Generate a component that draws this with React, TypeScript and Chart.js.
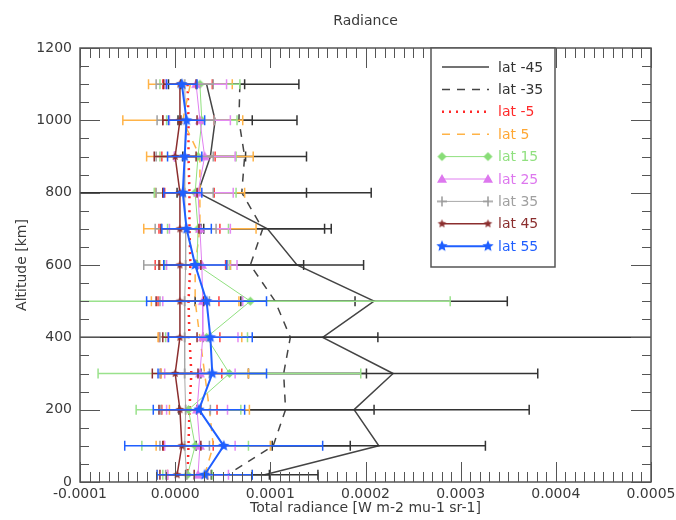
import React, { useEffect, useRef } from 'react';
import { Chart, registerables } from 'chart.js';

Chart.register(...registerables);

// ---------- data ----------
const ALTITUDES = [1100, 1000, 900, 800, 700, 600, 500, 400, 300, 200, 100, 20];
const SERIES_NAMES = ['lat -45', 'lat -35', 'lat -5', 'lat 5', 'lat 15', 'lat 25', 'lat 35', 'lat 45', 'lat 55'];

const LAT_M45 = [3.3e-5, 4.2e-5, 3.7e-5, 2.4e-5, 9.7e-5, 12.8e-5, 20.9e-5, 15.5e-5, 22.9e-5, 18.8e-5, 21.4e-5, 9.4e-5];
const ERR_M45 = [4.0e-5, 3.9e-5, 3.7e-5, 18.2e-5, 6.7e-5, 7.0e-5, 14.0e-5, 38.0e-5, 15.2e-5, 18.4e-5, 11.2e-5, 5.6e-5];

const LAT_M35 = [6.8e-5, 6.7e-5, 7.3e-5, 7.0e-5, 9.2e-5, 7.9e-5, 10.5e-5, 12.1e-5, 11.4e-5, 11.6e-5, 10.3e-5, 5.5e-5];
const ERR_M35 = [6.2e-5, 6.1e-5, 6.5e-5, 6.8e-5, 6.5e-5, 5.6e-5, 8.4e-5, 9.2e-5, 8.7e-5, 9.3e-5, 8.1e-5, 4.4e-5];

const LAT_M5 = [1.3e-5, 1.4e-5, 1.4e-5, 1.5e-5, 1.5e-5, 1.6e-5, 1.4e-5, 1.5e-5, 1.7e-5, 1.5e-5, 1.4e-5, 1.3e-5];
const ERR_M5 = [2.6e-5, 2.7e-5, 2.8e-5, 2.6e-5, 3.2e-5, 3.7e-5, 3.2e-5, 3.2e-5, 3.2e-5, 2.9e-5, 2.6e-5, 2.1e-5];

const LAT_5 = [1.6e-5, 0.8e-5, 2.6e-5, 2.6e-5, 2.6e-5, 2.1e-5, 2.1e-5, 2.6e-5, 3.1e-5, 3.6e-5, 4.0e-5, 3.1e-5];
const ERR_5 = [4.4e-5, 6.3e-5, 5.6e-5, 4.7e-5, 5.9e-5, 3.7e-5, 4.6e-5, 4.4e-5, 4.6e-5, 4.2e-5, 6.0e-5, 5.0e-5];

const LAT_15 = [2.6e-5, 2.8e-5, 2.4e-5, 2.1e-5, 2.4e-5, 2.3e-5, 7.9e-5, 3.3e-5, 5.7e-5, 1.4e-5, 2.1e-5, 1.3e-5];
const ERR_15 = [4.2e-5, 3.7e-5, 4.0e-5, 4.3e-5, 3.2e-5, 3.4e-5, 21.0e-5, 4.3e-5, 13.8e-5, 5.5e-5, 5.6e-5, 2.6e-5];

const LAT_25 = [2.2e-5, 2.6e-5, 3.1e-5, 2.4e-5, 2.6e-5, 2.8e-5, 2.9e-5, 2.9e-5, 2.6e-5, 2.3e-5, 2.6e-5, 2.4e-5];
const ERR_25 = [3.2e-5, 3.2e-5, 3.2e-5, 3.7e-5, 3.2e-5, 3.7e-5, 4.2e-5, 3.7e-5, 3.7e-5, 3.2e-5, 3.7e-5, 3.2e-5];

const LAT_35 = [1.0e-5, 1.1e-5, 1.0e-5, 1.0e-5, 1.1e-5, 1.1e-5, 1.0e-5, 1.0e-5, 1.0e-5, 1.1e-5, 1.0e-5, 1.2e-5];
const ERR_35 = [3.0e-5, 3.0e-5, 3.0e-5, 3.0e-5, 3.2e-5, 4.4e-5, 2.6e-5, 2.6e-5, 2.6e-5, 2.6e-5, 2.6e-5, 2.2e-5];

const LAT_45 = [0.5e-5, 0.5e-5, 0.0, 0.5e-5, 0.5e-5, 0.5e-5, 0.5e-5, 0.5e-5, 0.0, 0.5e-5, 0.7e-5, 0.2e-5];
const ERR_45 = [1.7e-5, 1.8e-5, 2.2e-5, 1.8e-5, 2.0e-5, 2.2e-5, 2.5e-5, 1.8e-5, 2.4e-5, 2.2e-5, 2.0e-5, 1.8e-5];

const LAT_55 = [0.7e-5, 1.2e-5, 1.0e-5, 0.8e-5, 1.2e-5, 2.1e-5, 3.3e-5, 3.7e-5, 3.9e-5, 2.5e-5, 5.1e-5, 3.1e-5];
const ERR_55 = [1.6e-5, 1.9e-5, 1.8e-5, 2.0e-5, 2.6e-5, 3.3e-5, 6.3e-5, 4.4e-5, 5.7e-5, 4.8e-5, 10.4e-5, 5.0e-5];

const X_MIN = -0.0001;
const X_MAX = 0.0005;
const X_STEP = 0.0001;
const Y_MIN = 0;
const Y_MAX = 1200;
const Y_STEP = 200;

const TITLE = 'Radiance';
const X_TITLE = 'Total radiance [W m-2 mu-1 sr-1]';
const Y_TITLE = 'Altitude [km]';

const FONT = "'DejaVu Sans', sans-serif";
const TEXT_COLOR = '#3a3a3a';
const AXIS_COLOR = '#555555';

// ---------- markers ----------
function makeMarker(kind: string, color: string, r: number): HTMLCanvasElement {
  const s = Math.ceil(r * 2 + 4);
  const c = document.createElement('canvas');
  c.width = s;
  c.height = s;
  const g = c.getContext('2d') as CanvasRenderingContext2D;
  const m = s / 2;
  g.fillStyle = color;
  g.strokeStyle = color;
  g.lineWidth = 1.5;
  g.beginPath();
  if (kind === 'diamond') {
    g.moveTo(m, m - r);
    g.lineTo(m + r, m);
    g.lineTo(m, m + r);
    g.lineTo(m - r, m);
    g.closePath();
    g.fill();
  } else if (kind === 'triangle') {
    g.moveTo(m, m - r);
    g.lineTo(m + r, m + r * 0.75);
    g.lineTo(m - r, m + r * 0.75);
    g.closePath();
    g.fill();
  } else if (kind === 'plus') {
    g.moveTo(m - r, m);
    g.lineTo(m + r, m);
    g.moveTo(m, m - r);
    g.lineTo(m, m + r);
    g.stroke();
  } else if (kind === 'star') {
    for (let i = 0; i < 10; i++) {
      const rr = i % 2 === 0 ? r : r * 0.45;
      const a = -Math.PI / 2 + (i * Math.PI) / 5;
      const px = m + rr * Math.cos(a);
      const py = m + rr * Math.sin(a);
      if (i === 0) g.moveTo(px, py);
      else g.lineTo(px, py);
    }
    g.closePath();
    g.fill();
  }
  return c;
}

// ---------- plugins ----------
const errorBarPlugin = {
  id: 'errorBars',
  afterDatasetDraw(chart: any, args: any) {
    const ds = chart.data.datasets[args.index];
    if (!ds.errors) return;
    const { ctx, chartArea } = chart;
    const xs = chart.scales.x;
    const ys = chart.scales.y;
    ctx.save();
    ctx.beginPath();
    ctx.rect(chartArea.left, chartArea.top, chartArea.right - chartArea.left, chartArea.bottom - chartArea.top);
    ctx.clip();
    ctx.strokeStyle = ds.errColor;
    ctx.lineWidth = 1.5;
    ctx.setLineDash([]);
    ds.data.forEach((p: any, i: number) => {
      const e = ds.errors[i];
      const x0 = xs.getPixelForValue(p.x - e);
      const x1 = xs.getPixelForValue(p.x + e);
      const y = ys.getPixelForValue(p.y);
      ctx.beginPath();
      ctx.moveTo(x0, y);
      ctx.lineTo(x1, y);
      ctx.moveTo(x0, y - 5);
      ctx.lineTo(x0, y + 5);
      ctx.moveTo(x1, y - 5);
      ctx.lineTo(x1, y + 5);
      ctx.stroke();
    });
    ctx.restore();
  },
};

const framePlugin = {
  id: 'frame',
  afterDraw(chart: any) {
    const { ctx, chartArea } = chart;
    const xs = chart.scales.x;
    const ys = chart.scales.y;
    const { left, right, top, bottom } = chartArea;
    ctx.save();
    ctx.setLineDash([]);
    ctx.strokeStyle = AXIS_COLOR;
    ctx.lineWidth = 1;
    // x ticks (minor every tenth of a major step)
    const nx = Math.round((X_MAX - X_MIN) / (X_STEP / 10));
    for (let i = 0; i <= nx; i++) {
      const v = X_MIN + (i * X_STEP) / 10;
      const px = Math.round(xs.getPixelForValue(v)) + 0.5;
      const len = i % 10 === 0 ? 20 : 10;
      ctx.beginPath();
      ctx.moveTo(px, bottom);
      ctx.lineTo(px, bottom - len);
      ctx.moveTo(px, top);
      ctx.lineTo(px, top + len);
      ctx.stroke();
    }
    // y ticks (minor every quarter of a major step)
    const ny = Math.round((Y_MAX - Y_MIN) / (Y_STEP / 4));
    for (let i = 0; i <= ny; i++) {
      const v = Y_MIN + (i * Y_STEP) / 4;
      const py = Math.round(ys.getPixelForValue(v)) + 0.5;
      const len = i % 4 === 0 ? 20 : 9;
      ctx.beginPath();
      ctx.moveTo(left, py);
      ctx.lineTo(left + len, py);
      ctx.moveTo(right, py);
      ctx.lineTo(right - len, py);
      ctx.stroke();
    }
    ctx.lineWidth = 1.5;
    ctx.strokeRect(left, top, right - left, bottom - top);

    // titles
    ctx.fillStyle = TEXT_COLOR;
    ctx.font = `14px ${FONT}`;
    ctx.textAlign = 'center';
    ctx.textBaseline = 'middle';
    const cx = (left + right) / 2;
    ctx.fillText(TITLE, cx, 21);
    ctx.fillText(X_TITLE, cx, 508);
    ctx.save();
    ctx.translate(22, (top + bottom) / 2);
    ctx.rotate(-Math.PI / 2);
    ctx.fillText(Y_TITLE, 0, 0);
    ctx.restore();

    // legend
    const lx = 431;
    const ly = top;
    const lw = 124;
    const lh = 219;
    ctx.fillStyle = '#ffffff';
    ctx.fillRect(lx, ly, lw, lh);
    ctx.strokeStyle = AXIS_COLOR;
    ctx.lineWidth = 1.5;
    ctx.strokeRect(lx, ly, lw, lh);
    chart.data.datasets.forEach((ds: any, i: number) => {
      const y = 67 + i * 22.4;
      ctx.save();
      ctx.strokeStyle = ds.borderColor;
      ctx.lineWidth = ds.borderWidth;
      ctx.setLineDash(ds.borderDash || []);
      ctx.beginPath();
      ctx.moveTo(442, y);
      ctx.lineTo(489, y);
      ctx.stroke();
      ctx.restore();
      if (ds.marker) {
        const mk = ds.marker as HTMLCanvasElement;
        ctx.drawImage(mk, 442 - mk.width / 2, y - mk.height / 2);
        ctx.drawImage(mk, 488 - mk.width / 2, y - mk.height / 2);
      }
      ctx.fillStyle = ds.legendColor;
      ctx.font = `14px ${FONT}`;
      ctx.textAlign = 'left';
      ctx.textBaseline = 'middle';
      ctx.fillText(ds.label, 498, y + 1);
    });
    ctx.restore();
  },
};

// ---------- component ----------
export default function App() {
  const ref = useRef<HTMLCanvasElement | null>(null);

  useEffect(() => {
    if (!ref.current) return;
    const series = [LAT_M45, LAT_M35, LAT_M5, LAT_5, LAT_15, LAT_25, LAT_35, LAT_45, LAT_55];
    const errs = [ERR_M45, ERR_M35, ERR_M5, ERR_5, ERR_15, ERR_25, ERR_35, ERR_45, ERR_55];
    const styles: any[] = [
      { color: '#444444', err: '#333333', text: '#333333', width: 1.5, dash: [] },
      { color: '#444444', err: '#333333', text: '#333333', width: 1.5, dash: [8, 7] },
      { color: '#ff2a2a', err: '#ff4040', text: '#ff2a2a', width: 2.5, dash: [2, 5] },
      { color: '#ffb347', err: '#ffb347', text: '#ffa733', width: 1.5, dash: [8, 7] },
      { color: '#90e07f', err: '#9ae28c', text: '#90e07f', width: 1, dash: [], marker: makeMarker('diamond', '#88dd77', 4.5) },
      { color: '#e07ff0', err: '#e48af2', text: '#dd77ee', width: 1, dash: [], marker: makeMarker('triangle', '#dd77ee', 5) },
      { color: '#a8a8a8', err: '#a0a0a0', text: '#a0a0a0', width: 1, dash: [], marker: makeMarker('plus', '#999999', 5) },
      { color: '#8b2e2e', err: '#8b2e2e', text: '#8b2e2e', width: 1.5, dash: [], marker: makeMarker('star', '#8b2e2e', 4.5) },
      { color: '#1f5fff', err: '#1f5fff', text: '#1f5fff', width: 2, dash: [], marker: makeMarker('star', '#1f5fff', 6) },
    ];
    const datasets = series.map((vals, i) => {
      const st = styles[i];
      return {
        label: SERIES_NAMES[i],
        data: ALTITUDES.map((a, j) => ({ x: vals[j], y: a })),
        errors: errs[i],
        errColor: st.err,
        legendColor: st.text,
        marker: st.marker,
        showLine: true,
        borderColor: st.color,
        backgroundColor: st.color,
        borderWidth: st.width,
        borderDash: st.dash,
        pointRadius: st.marker ? 5 : 0,
        pointStyle: st.marker || 'circle',
        tension: 0,
        order: 8 - i,
      };
    });

    const chart = new Chart(ref.current, {
      type: 'scatter',
      data: { datasets } as any,
      plugins: [errorBarPlugin, framePlugin],
      options: {
        responsive: false,
        animation: false,
        devicePixelRatio: 1,
        layout: { padding: { top: 48, right: 25, left: 0, bottom: 0 } },
        plugins: {
          legend: { display: false },
          title: { display: false },
          tooltip: { enabled: false },
        },
        scales: {
          x: {
            type: 'linear',
            min: X_MIN,
            max: X_MAX,
            grid: { display: false, drawTicks: false },
            border: { display: false },
            afterFit: (s: any) => {
              s.height = 38;
              s.paddingLeft = 0;
              s.paddingRight = 0;
            },
            ticks: {
              stepSize: X_STEP,
              autoSkip: false,
              maxRotation: 0,
              padding: 4,
              color: TEXT_COLOR,
              font: { family: FONT, size: 14 },
              callback: (v: any) => {
                const n = Number(v);
                return (Math.abs(n) < 1e-12 ? 0 : n).toFixed(4);
              },
            },
          },
          y: {
            type: 'linear',
            min: Y_MIN,
            max: Y_MAX,
            grid: { display: false, drawTicks: false },
            border: { display: false },
            afterFit: (s: any) => {
              s.width = 80;
              s.paddingTop = 0;
              s.paddingBottom = 0;
            },
            ticks: {
              stepSize: Y_STEP,
              padding: 8,
              color: TEXT_COLOR,
              font: { family: FONT, size: 14 },
              callback: (v: any) => String(Math.round(Number(v))),
            },
          },
        },
      } as any,
    });
    return () => chart.destroy();
  }, []);

  return (
    <div style={{ position: 'absolute', left: 0, top: 0, width: 676, height: 520, background: '#fff' }}>
      <canvas ref={ref} width={676} height={520} style={{ width: 676, height: 520, display: 'block' }} />
    </div>
  );
}
